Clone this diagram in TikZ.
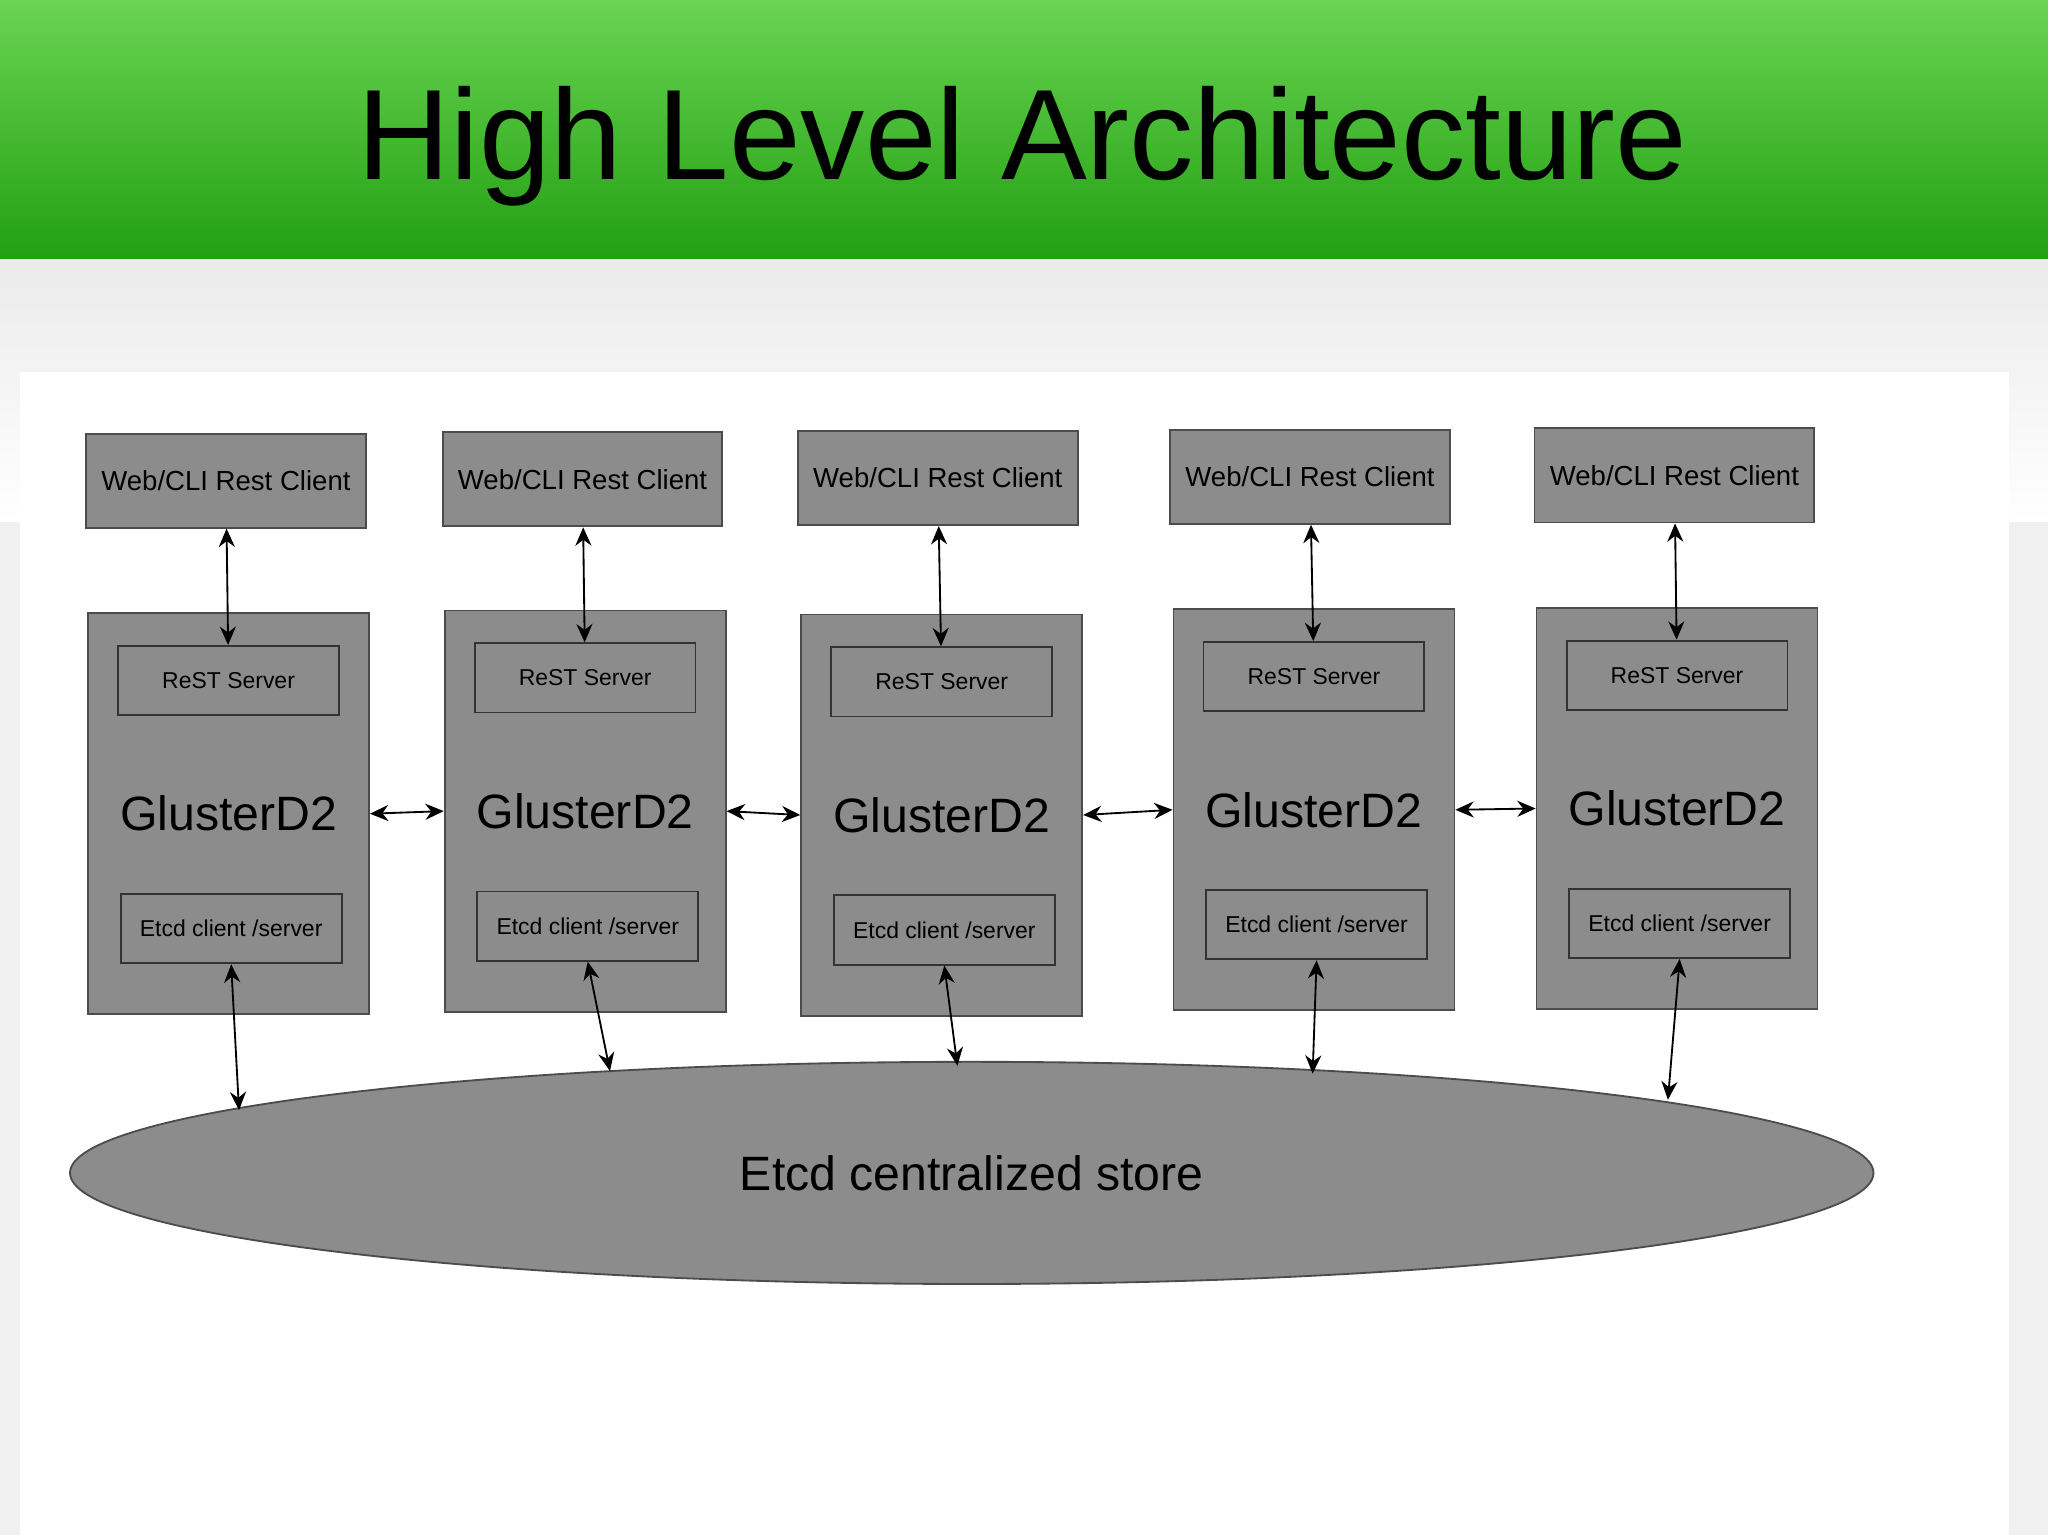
\documentclass[tikz,border=0pt]{standalone}
\usepackage{fontspec}
\setmainfont{Liberation Sans}
\usetikzlibrary{arrows.meta,shapes.geometric}
\definecolor{boxgray}{HTML}{8C8C8C}
\definecolor{topgreen}{HTML}{6AD452}
\definecolor{lowgreen}{HTML}{22A012}
\tikzset{
  client/.style={rectangle,draw=black!70,fill=boxgray,minimum width=2.14cm,minimum height=0.72cm,font=\fontsize{6}{7}\selectfont},
  gluster/.style={rectangle,draw=black!70,fill=boxgray,minimum width=2.15cm,minimum height=3.07cm,font=\fontsize{10.5}{12}\selectfont},
  inner/.style={rectangle,draw=black!80,fill=boxgray,minimum width=1.69cm,minimum height=0.53cm,font=\fontsize{5}{6}\selectfont},
  link/.style={<->,>={Stealth[black,length=4pt,width=3.5pt]},thin}
}
\begin{document}
\begin{tikzpicture}[x=0.01cm,y=-0.01cm]
\useasboundingbox (0,0) rectangle (1568,1175);
% slide background
\shade[top color=black!8,bottom color=white] (0,198) rectangle (1568,400);
\fill[black!6] (0,400) rectangle (1568,1175);
\fill[white] (15,285) rectangle (1538,1175);
\shade[top color=topgreen,bottom color=lowgreen] (0,0) rectangle (1568,198);
\node (title) at (783,112) {\fontsize{28}{32}\selectfont High Level Architecture};

% store
\node[ellipse,draw=black!70,fill=boxgray,minimum width=13.8cm,minimum height=1.7cm,
      font=\fontsize{10.5}{12}\selectfont] (store) at (744,898) {Etcd centralized store};

\foreach \i/\cx/\cy/\gx/\gy/\ex/\ey in {1/173/368/175/623/183/850, 2/446/367/448/621/467/820,
    3/718/366/721/624/733/816, 4/1003/365/1006/620/1005/822, 5/1282/364/1284/619/1277/842}{
  \node[client] (client\i) at (\cx,\cy) {Web/CLI Rest Client};
  \node[gluster] (gd\i) at (\gx,\gy) {GlusterD2};
  \node[inner] (rest\i) at (\gx,\gy-102) {ReST Server};
  \node[inner] (etcd\i) at (\gx+2,\gy+88) {Etcd client /server};
  \coordinate (st\i) at (\ex,\ey);
  \draw[link] (client\i) -- (rest\i);
  \draw[link] (etcd\i.south) -- (st\i);
}
\foreach \a/\b in {1/2,2/3,3/4,4/5}{
  \draw[link] (gd\a.east) -- (gd\b.west);
}
\end{tikzpicture}
\end{document}
